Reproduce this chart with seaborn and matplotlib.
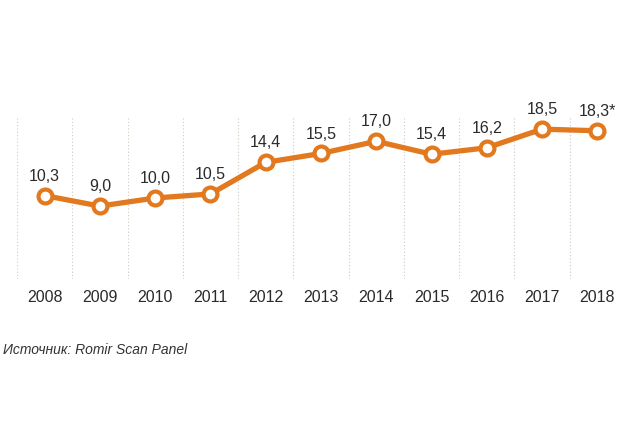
import matplotlib
matplotlib.use("Agg")
import matplotlib.pyplot as plt
import seaborn as sns
import pandas as pd

years = ["2008", "2009", "2010", "2011", "2012", "2013", "2014", "2015", "2016", "2017", "2018"]
values = [10.3, 9.0, 10.0, 10.5, 14.4, 15.5, 17.0, 15.4, 16.2, 18.5, 18.3]
labels = ["10,3", "9,0", "10,0", "10,5", "14,4", "15,5", "17,0", "15,4", "16,2", "18,5", "18,3*"]
source = "Источник: Romir Scan Panel"

sns.set_theme(style="white")
plt.rcParams['font.family'] = ['Liberation Sans', 'DejaVu Sans']

orange = "#E2791F"
df = pd.DataFrame({"year": years, "value": values, "idx": range(len(years))})

fig = plt.figure(figsize=(6.4, 4.41), dpi=100)
ax = fig.add_axes([17/640, 1 - 279/441, (625 - 17)/640, (279 - 117)/441])

sns.lineplot(data=df, x="idx", y="value", ax=ax, color=orange, linewidth=3.8,
             marker="o", markersize=10, markerfacecolor="white",
             markeredgecolor=orange, markeredgewidth=3)

for i, (v, t) in enumerate(zip(values, labels)):
    ax.annotate(t, (i, v), xytext=(0, 14), textcoords="offset points",
                ha="center", va="center", fontsize=11.5, color="#2a2a2a")

n = len(years)
ax.set_xlim(-0.5, n - 0.5)
ax.set_ylim(0, 20)
for b in range(n + 1):
    ax.axvline(b - 0.5, color="#d2c8bd", linestyle=(0, (1, 2)), linewidth=0.8, zorder=0)

ax.set_xticks(range(n))
ax.set_xticklabels(years, fontsize=11.5, color="#2a2a2a")
ax.tick_params(axis="x", length=0, pad=8)
ax.set_yticks([])
ax.set_xlabel("")
ax.set_ylabel("")
for s in ax.spines.values():
    s.set_visible(False)

fig.text(3/640, 1 - 350/441, source, fontsize=10, style="italic", color="#333333",
         ha="left", va="center")

fig.savefig("out.png", dpi=100, facecolor="white")
